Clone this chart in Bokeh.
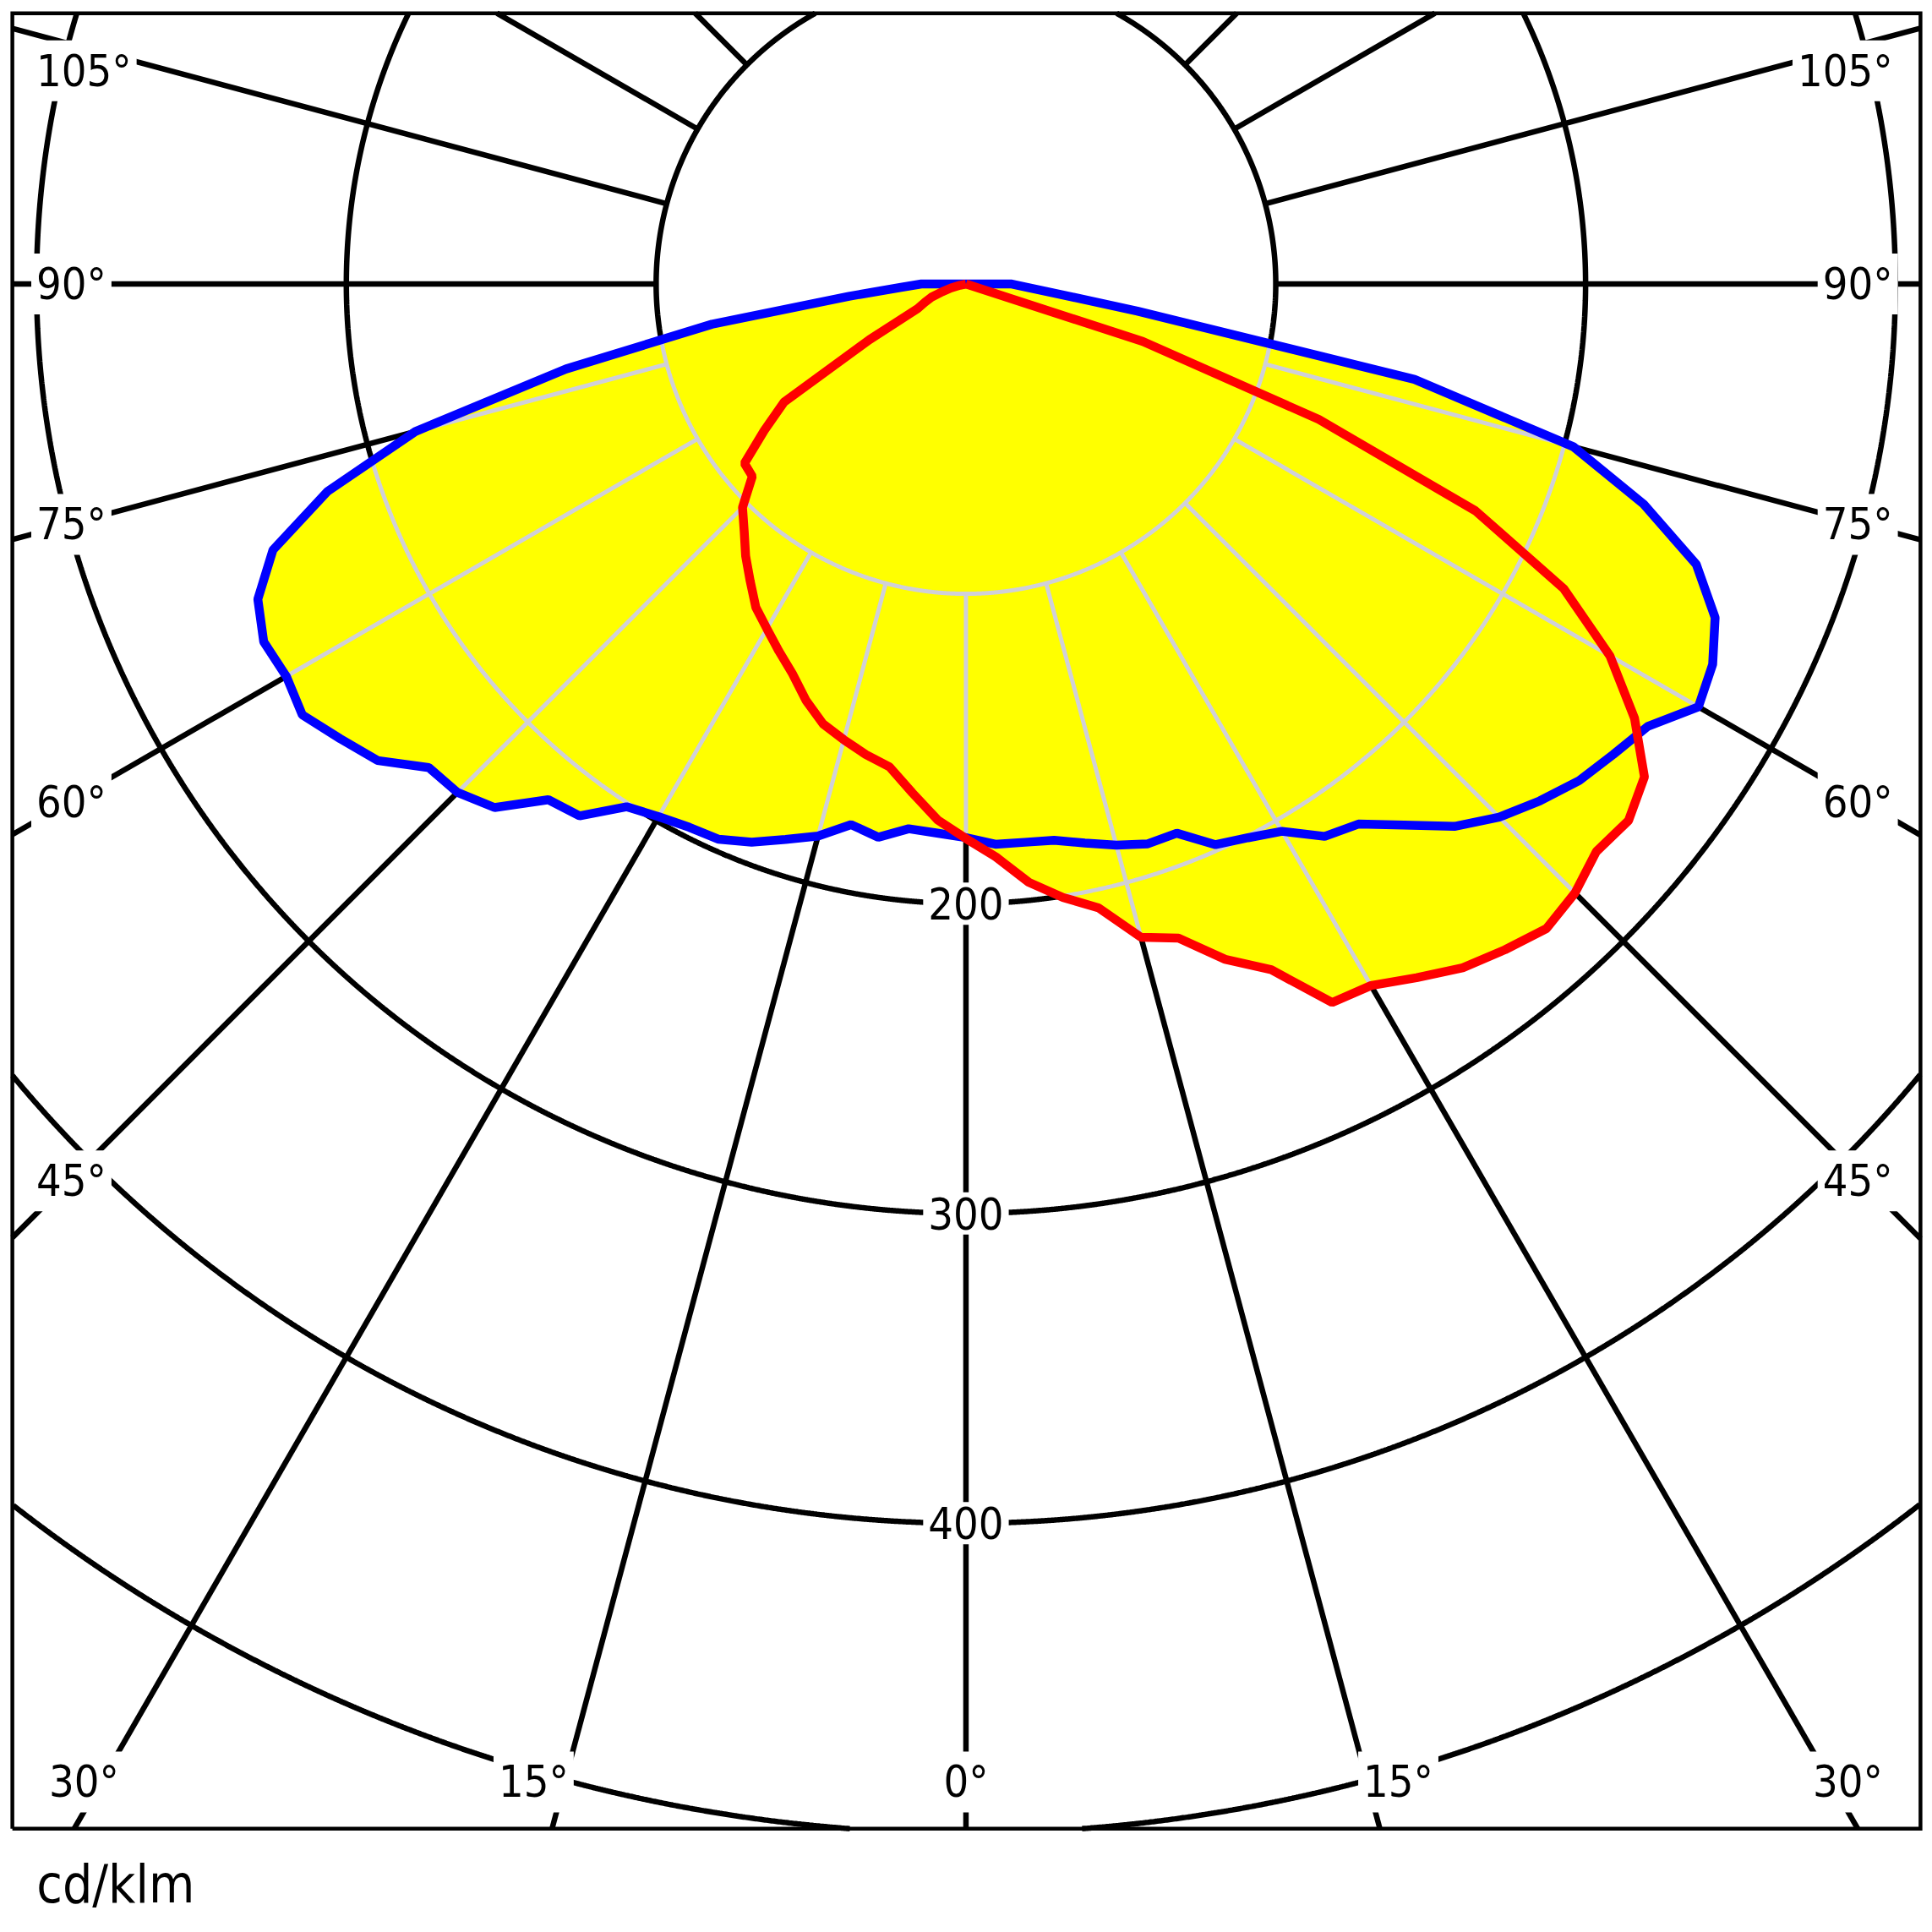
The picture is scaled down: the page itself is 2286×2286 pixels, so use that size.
import numpy as np
from bokeh.plotting import figure
from bokeh.models import Range1d
from bokeh.embed import file_html
from bokeh.resources import INLINE
from bokeh.core.properties import value

# ---------------- data (cd/klm) ----------------
GAMMA = list(range(-90, 91, 3))  # degrees, 0 = nadir, negative = left half-plane

I_BLUE = [14.4, 21, 38, 83, 132, 184, 216.7, 239.6, 250.2, 254.4,
          253.3, 255.4, 249.7, 244.4, 233.3, 232.1, 227.4, 214.2, 212.2, 201.2,
          198.5, 196.8, 196.2, 193.0, 188.5, 184.5, 178.4, 180.8, 176.8, 177.5,
          178.7,
          181.1, 181.2, 181.8, 184.5, 187.5, 190.0, 189.9, 198.1, 200.6, 204.0,
          212.6, 215.5, 224.7, 235.6, 243.4, 249.3, 254.7, 258.3, 262.3, 273.0,
          270.5, 264.7, 252.5, 230.0, 203.0, 148.0, 56.0, 29.0, 19.6, 14.8]

I_RED = [0, 0, 0, 0, 2, 5, 8, 12, 14.5, 17.5,
         36, 70, 80.5, 92, 92.8, 102, 107, 113, 118.5, 124.5,
         128.5, 133, 137.7, 144, 149.3, 152.3, 155.3, 157.8, 165.2, 173.3,
         179,
         185.2, 194.2, 200.5, 205.9, 218.3, 222, 233.5, 242.3, 260.3, 261.5,
         267, 272.8, 276.5, 280, 278, 273.8, 275.2, 270.7, 257.3, 240,
         216.5, 180, 122, 60, 0, 0, 0, 0, 0, 0]

RINGS = [100, 200, 300, 400, 500]
RING_LABELS = ["200", "300", "400"]
RING_LABEL_VALUES = [200, 300, 400]
SIDE_LABEL_ANGLES = [105, 90, 75, 60, 45]
BOTTOM_LABEL_ANGLES = [30, 15, 0]
UNIT_TEXT = "cd/klm"

FONT = "DejaVu Sans Condensed"
FS = "52px"

# box (visible frame) in data units, centre of the diagram at (0, 0)
BX0, BX1 = -307.8, 308.1
BY0, BY1 = -498.6, 87.4

# plotting frame slightly larger than the box
XR0, XR1 = BX0 - 1.4, BX1 + 1.4
FW, FH = 2268, 2266
S = FW / (XR1 - XR0)          # px per unit
YR1 = BY1 + 1.4
YR0 = YR1 - FH / S

p = figure(frame_width=FW, frame_height=FH,
           x_range=Range1d(XR0, XR1), y_range=Range1d(YR0, YR1),
           output_backend="svg", toolbar_location=None,
           min_border_left=9, min_border_right=1, min_border_top=10, min_border_bottom=1,
           x_axis_location=None, y_axis_location=None)
p.grid.visible = False
p.outline_line_color = None
p.background_fill_color = "white"
p.border_fill_color = "white"

GRID_W = 6.5
LIGHT = "#d0d0d8"
CURVE_W = 10.5

def inside_box(x, y):
    return (x >= BX0) & (x <= BX1) & (y >= BY0) & (y <= BY1)

# ---------------- black grid (clipped to the box) ----------------
cx, cy = [], []
phi = np.radians(np.linspace(-180, 180, 7201))
for R in RINGS:
    x = R * np.sin(phi); y = -R * np.cos(phi)
    idx = np.where(inside_box(x, y))[0]
    if len(idx) < 2:
        continue
    for run in np.split(idx, np.where(np.diff(idx) > 1)[0] + 1):
        if len(run) >= 2:
            cx.append(list(x[run])); cy.append(list(y[run]))
p.multi_line(cx, cy, line_color="black", line_width=GRID_W)

def exit_t(a):
    dx, dy = np.sin(a), -np.cos(a)
    ts = []
    if dx > 1e-12: ts.append(BX1 / dx)
    if dx < -1e-12: ts.append(BX0 / dx)
    if dy > 1e-12: ts.append(BY1 / dy)
    if dy < -1e-12: ts.append(BY0 / dy)
    return min(ts)

rad_angles = np.radians(np.arange(0, 360, 15))
rx, ry = [], []
for a in rad_angles:
    te = exit_t(a)
    if te > 100:
        rx.append([100 * np.sin(a), te * np.sin(a)])
        ry.append([-100 * np.cos(a), -te * np.cos(a)])
p.multi_line(rx, ry, line_color="black", line_width=GRID_W)

# ---------------- labels ----------------
SIDE_X = 289.5        # where the label height is taken from the ray
SIDE_EDGE_L = -301.7  # left labels start here
SIDE_EDGE_R = 300.8   # right labels end here
TOP_CLAMP = 68.8
BOTTOM_Y = -483.5
BOTTOM_SHIFT = {30: 5.5, 15: 10.0}

llx, lly, llt = [], [], []
rlx, rly, rlt = [], [], []
for g in SIDE_LABEL_ANGLES:
    gr = np.radians(g)
    y = min(-SIDE_X * np.cos(gr) / np.sin(gr), TOP_CLAMP)
    llx.append(SIDE_EDGE_L); lly.append(y); llt.append(f"{g}°")
    rlx.append(SIDE_EDGE_R); rly.append(y); rlt.append(f"{g}°")

clx, cly, clt = [], [], []
for g in BOTTOM_LABEL_ANGLES:
    x = -BOTTOM_Y * np.tan(np.radians(g))
    if g == 0:
        clx.append(0.0); cly.append(BOTTOM_Y); clt.append("0°")
    else:
        for s in (-1, 1):
            clx.append(s * (x + BOTTOM_SHIFT[g])); cly.append(BOTTOM_Y); clt.append(f"{g}°")
for v, t in zip(RING_LABEL_VALUES, RING_LABELS):
    clx.append(0.0); cly.append(-float(v)); clt.append(t)

common = dict(text_font=value(FONT), text_font_size=FS, text_baseline="middle",
              text_color="black", background_fill_color="white", padding=6)
p.text(x=llx, y=lly, text=llt, text_align="left", **common)
p.text(x=rlx, y=rly, text=rlt, text_align="right", **common)
p.text(x=clx, y=cly, text=clt, text_align="center", **common)

# ---------------- curves ----------------
def polygon(I):
    g = np.radians(np.array(GAMMA, dtype=float))
    r = np.array(I, dtype=float)
    x = np.concatenate([[0.0], r * np.sin(g), [0.0]])
    y = np.concatenate([[0.0], -r * np.cos(g), [0.0]])
    return x, y

bx, by = polygon(I_BLUE)
rxp, ryp = polygon(I_RED)

p.patch(bx, by, fill_color="#ffff00", line_color=None)
p.patch(rxp, ryp, fill_color="#ffff00", line_color=None)

def ray_dist(px, py, ang):
    dx = np.sin(ang)[:, None]
    dy = -np.cos(ang)[:, None]
    x1 = px[None, :-1]; y1 = py[None, :-1]
    ex = (px[1:] - px[:-1])[None, :]; ey = (py[1:] - py[:-1])[None, :]
    den = dx * ey - dy * ex
    with np.errstate(divide="ignore", invalid="ignore"):
        t = (x1 * ey - y1 * ex) / den
        s = (x1 * dy - y1 * dx) / den
    ok = (np.abs(den) > 1e-12) & (s >= -1e-9) & (s <= 1 + 1e-9) & (t >= 0)
    t = np.where(ok, t, 0.0)
    return t.max(axis=1)

def rmax(ang):
    return np.maximum(ray_dist(bx, by, ang), ray_dist(rxp, ryp, ang))

# light grid inside the lit area
lrx, lry = [], []
rm = rmax(rad_angles)
for a, R in zip(rad_angles, rm):
    if R > 100:
        lrx.append([100 * np.sin(a), R * np.sin(a)])
        lry.append([-100 * np.cos(a), -R * np.cos(a)])

fphi = np.radians(np.linspace(-180, 180, 3601))
frm = rmax(fphi)
for R in RINGS:
    idx = np.where(frm > R)[0]
    if len(idx) == 0:
        continue
    runs = np.split(idx, np.where(np.diff(idx) > 1)[0] + 1)
    for run in runs:
        if len(run) < 2:
            continue
        a = fphi[run]
        lrx.append(list(R * np.sin(a)))
        lry.append(list(-R * np.cos(a)))

p.multi_line(lrx, lry, line_color=LIGHT, line_width=5)

p.line(bx, by, line_color="#0000ff", line_width=CURVE_W)
p.line(rxp, ryp, line_color="#ff0000", line_width=CURVE_W)

# ---------------- box ----------------
p.line([BX0, BX1, BX1, BX0, BX0], [BY0, BY0, BY1, BY1, BY0],
       line_color="black", line_width=4.5, line_join="miter")

p.text(x=[-300.0], y=[-516.5], text=[UNIT_TEXT], text_font=value(FONT),
       text_font_size="62px", text_align="left", text_baseline="middle",
       text_color="black")

open("out.html", "w").write(file_html(p, INLINE))
